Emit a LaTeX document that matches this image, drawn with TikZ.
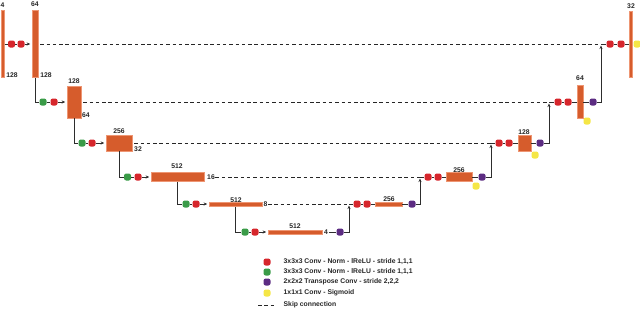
\documentclass[tikz,border=0pt]{standalone}
\usepackage{fontspec}
\setmainfont{Liberation Sans}
\usetikzlibrary{arrows.meta}
\definecolor{blkc}{RGB}{214,92,44}
\definecolor{blkb}{RGB}{238,150,115}
\definecolor{cred}{RGB}{214,38,44}
\definecolor{cgreen}{RGB}{58,155,72}
\definecolor{cpurple}{RGB}{92,44,130}
\definecolor{cyellow}{RGB}{245,230,70}
\definecolor{lc}{RGB}{45,45,45}
\begin{document}
\begin{tikzpicture}[x=1pt,y=-1pt,
 blk/.style={draw=blkb, fill=blkc, line width=0.5pt, inner sep=0pt, rectangle},
 dotn/.style={rectangle, rounded corners=2.2pt, minimum size=7pt, inner sep=0pt, fill=#1},
 lbl/.style={font=\fontsize{6.8}{7}\selectfont\bfseries, text=black!85, inner sep=0.5pt},
 con/.style={draw=lc, line width=0.9pt},
 arr/.style={con, -{Stealth[length=3.5pt,width=3pt]}, shorten >=1.5pt},
 skip/.style={draw=black!85, line width=0.9pt, dash pattern=on 3.5pt off 2.8pt},
]
\useasboundingbox (0,0) rectangle (640,309);
% encoder blocks
\node[blk,minimum width=3.5pt,minimum height=67pt] (b1) at (2.5,44) {};
\node[blk,minimum width=6pt,minimum height=67pt] (b2) at (35,44) {};
\node[blk,minimum width=14pt,minimum height=32pt] (b3) at (74,102) {};
\node[blk,minimum width=26pt,minimum height=16pt] (b4) at (119,143) {};
\node[blk,minimum width=53pt,minimum height=9pt] (b5) at (177.5,177) {};
\node[blk,minimum width=53pt,minimum height=4.5pt] (b6) at (235.5,204) {};
\node[blk,minimum width=54pt,minimum height=4.5pt] (b7) at (295,232) {};
% decoder blocks
\node[blk,minimum width=27pt,minimum height=4.5pt] (d6) at (388.5,204) {};
\node[blk,minimum width=26pt,minimum height=9pt] (d5) at (459,177) {};
\node[blk,minimum width=13pt,minimum height=16pt] (d4) at (524.5,143) {};
\node[blk,minimum width=6pt,minimum height=33pt] (d3) at (580,102) {};
\node[blk,minimum width=3.5pt,minimum height=66pt] (d2) at (630.5,44) {};
% encoder dots
\node[dotn=cred] (r1a) at (11.5,44) {};
\node[dotn=cred] (r1b) at (21,44) {};
\node[dotn=cgreen] (g2) at (43,102) {};
\node[dotn=cred] (r2) at (54,102) {};
\node[dotn=cgreen] (g3) at (82,143) {};
\node[dotn=cred] (r3) at (92,143) {};
\node[dotn=cgreen] (g4) at (127.5,177) {};
\node[dotn=cred] (r4) at (138,177) {};
\node[dotn=cgreen] (g5) at (186,204) {};
\node[dotn=cred] (r5) at (196,204) {};
\node[dotn=cgreen] (g6) at (245,232) {};
\node[dotn=cred] (r6) at (255,232) {};
\node[dotn=cpurple] (p7) at (340,232) {};
% decoder dots
\coordinate (j6) at (349,204);
\node[dotn=cred] (e6a) at (357,204) {};
\node[dotn=cred] (e6b) at (367,204) {};
\node[dotn=cpurple] (p6) at (412,204) {};
\coordinate (j5) at (420,177);
\node[dotn=cred] (e5a) at (428,177) {};
\node[dotn=cred] (e5b) at (438,177) {};
\node[dotn=cpurple] (p5) at (482,177) {};
\node[dotn=cyellow] (y5) at (476,186) {};
\coordinate (j4) at (491,143);
\node[dotn=cred] (e4a) at (499,143) {};
\node[dotn=cred] (e4b) at (509,143) {};
\node[dotn=cpurple] (p4) at (540,143) {};
\node[dotn=cyellow] (y4) at (535,155) {};
\coordinate (j3) at (549,102);
\node[dotn=cred] (e3a) at (558,102) {};
\node[dotn=cred] (e3b) at (568,102) {};
\node[dotn=cpurple] (p3) at (593,102) {};
\node[dotn=cyellow] (y3) at (587,121) {};
\coordinate (j2) at (601,44);
\node[dotn=cred] (e2a) at (610,44) {};
\node[dotn=cred] (e2b) at (621,44) {};
\node[dotn=cyellow] (y2) at (637,44) {};
% labels
\node[lbl] (t1a) at (2.5,5) {4};
\node[lbl] (t1b) at (12,75) {128};
\node[lbl] (t2a) at (35,4) {64};
\node[lbl] (t2b) at (46,75) {128};
\node[lbl] (t3a) at (74,81) {128};
\node[lbl] (t3b) at (86,115) {64};
\node[lbl] (t4a) at (119,131) {256};
\node[lbl] (t4b) at (138,149) {32};
\node[lbl] (t5a) at (177,166) {512};
\node[lbl] (t5b) at (211,177) {16};
\node[lbl] (t6a) at (236,200) {512};
\node[lbl] (t6b) at (265.5,204) {8};
\node[lbl] (t7a) at (295,226) {512};
\node[lbl] (t7b) at (326,232) {4};
\node[lbl] (u6) at (389,199) {256};
\node[lbl] (u5) at (459,170) {256};
\node[lbl] (u4) at (524,132) {128};
\node[lbl] (u3) at (580,78) {64};
\node[lbl] (u2) at (631,6) {32};
% encoder connectors
\draw[con] (b1) -- (r1a) -- (r1b);
\draw[arr] (r1b) -- (b2);
\draw[con] (b2) |- (g2) -- (r2);
\draw[arr] (r2) -- (b3);
\draw[con] (b3) |- (g3) -- (r3);
\draw[arr] (r3) -- (b4);
\draw[con] (b4) |- (g4) -- (r4);
\draw[arr] (r4) -- (b5);
\draw[con] (b5) |- (g5) -- (r5);
\draw[arr] (r5) -- (b6);
\draw[con] (b6) |- (g6) -- (r6);
\draw[arr] (r6) -- (b7);
\draw[con] (t7b) -- (p7);
\draw[arr] (p7) -| (j6);
% skip connections
\draw[skip] ([xshift=2pt]b2.east) -- (j2);
\draw[skip] ([xshift=2pt]b3.east) -- (j3);
\draw[skip] ([xshift=2pt]b4.east) -- (j4);
\draw[skip] (t5b.east) -- (j5);
\draw[skip] (t6b.east) -- (j6);
% decoder connectors
\draw[con] (j6) -- (e6a) -- (e6b) -- (d6) -- (p6);
\draw[arr] (p6) -| (j5);
\draw[con] (j5) -- (e5a) -- (e5b) -- (d5) -- (p5);
\draw[arr] (p5) -| (j4);
\draw[con] (j4) -- (e4a) -- (e4b) -- (d4) -- (p4);
\draw[arr] (p4) -| (j3);
\draw[con] (j3) -- (e3a) -- (e3b) -- (d3) -- (p3);
\draw[arr] (p3) -| (j2);
\draw[con] (j2) -- (e2a) -- (e2b) -- (d2);
% legend
\node[dotn=cred] (ld1) at (267,262) {};
\node[dotn=cgreen] (ld2) at (267,272) {};
\node[dotn=cpurple] (ld3) at (267,282) {};
\node[dotn=cyellow] (ld4) at (267,293) {};
\coordinate (ls1) at (258,305);
\coordinate (ls2) at (274,305);
\draw[skip] (ls1) -- (ls2);
\node[lbl,anchor=west] (lt1) at (283,262) {3x3x3 Conv - Norm - lReLU - stride 1,1,1};
\node[lbl,anchor=west] (lt2) at (283,272) {3x3x3 Conv - Norm - lReLU - stride 1,1,1};
\node[lbl,anchor=west] (lt3) at (283,282) {2x2x2 Transpose Conv - stride 2,2,2};
\node[lbl,anchor=west] (lt4) at (283,293) {1x1x1 Conv - Sigmoid};
\node[lbl,anchor=west] (lt5) at (283,305) {Skip connection};
\end{tikzpicture}
\end{document}
